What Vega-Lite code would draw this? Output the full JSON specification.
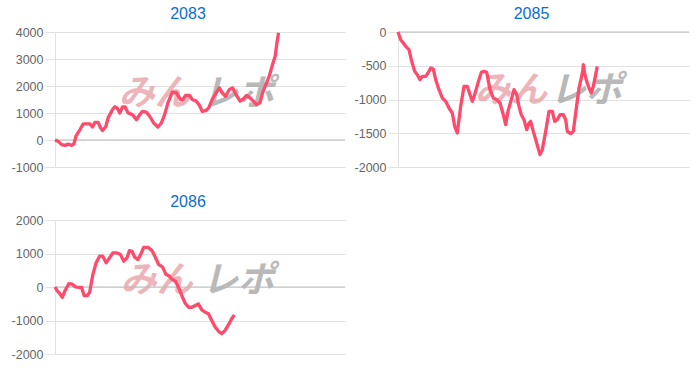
{
  "$schema": "https://vega.github.io/schema/vega-lite/v6.json",
  "padding": {"left": 11, "top": 6, "right": 2, "bottom": 5},
  "background": "white",
  "columns": 2,
  "spacing": {"column": 8, "row": 20},
  "config": {
    "view": {"stroke": null},
    "axis": {
      "labelFont": "Liberation Sans",
      "labelFontSize": 12.5,
      "labelColor": "#666666",
      "labelOverlap": false,
      "grid": true,
      "gridColor": "#e2e2e2",
      "gridOpacity": 1,
      "domainColor": "#e2e2e2",
      "tickColor": "#e2e2e2",
      "tickSize": 10,
      "labelPadding": 2,
      "title": null
    },
    "title": {
      "font": "Liberation Sans",
      "fontSize": 16,
      "fontWeight": "normal",
      "color": "#0a6ed1",
      "anchor": "middle",
      "offset": 4
    }
  },
  "datasets": {
    "pts": [
      {"id": 2083, "x": 0, "y": 0}, {"id": 2083, "x": 3.3, "y": -50}, {"id": 2083, "x": 6.7, "y": -170}, {"id": 2083, "x": 10, "y": -200}, {"id": 2083, "x": 13.3, "y": -150}, {"id": 2083, "x": 16.7, "y": -200}, {"id": 2083, "x": 19, "y": -140}, {"id": 2083, "x": 21, "y": 140}, {"id": 2083, "x": 25, "y": 380}, {"id": 2083, "x": 28.3, "y": 600}, {"id": 2083, "x": 31.7, "y": 600}, {"id": 2083, "x": 35, "y": 600}, {"id": 2083, "x": 37.7, "y": 480}, {"id": 2083, "x": 40, "y": 650}, {"id": 2083, "x": 43.3, "y": 650}, {"id": 2083, "x": 45.7, "y": 450}, {"id": 2083, "x": 47.7, "y": 350}, {"id": 2083, "x": 51, "y": 500}, {"id": 2083, "x": 53.3, "y": 820}, {"id": 2083, "x": 57.7, "y": 1130}, {"id": 2083, "x": 60, "y": 1230}, {"id": 2083, "x": 62.3, "y": 1190}, {"id": 2083, "x": 65, "y": 1000}, {"id": 2083, "x": 67.7, "y": 1230}, {"id": 2083, "x": 70.3, "y": 1230}, {"id": 2083, "x": 73.3, "y": 1000}, {"id": 2083, "x": 77.7, "y": 940}, {"id": 2083, "x": 81.7, "y": 750}, {"id": 2083, "x": 84.3, "y": 900}, {"id": 2083, "x": 87.7, "y": 1060}, {"id": 2083, "x": 91.7, "y": 1030}, {"id": 2083, "x": 95, "y": 880}, {"id": 2083, "x": 99, "y": 630}, {"id": 2083, "x": 103.3, "y": 480}, {"id": 2083, "x": 106.7, "y": 630}, {"id": 2083, "x": 110, "y": 940}, {"id": 2083, "x": 113.3, "y": 1375}, {"id": 2083, "x": 117.7, "y": 1770}, {"id": 2083, "x": 121.7, "y": 1750}, {"id": 2083, "x": 126, "y": 1500}, {"id": 2083, "x": 128.3, "y": 1500}, {"id": 2083, "x": 131, "y": 1650}, {"id": 2083, "x": 135, "y": 1650}, {"id": 2083, "x": 137.7, "y": 1500}, {"id": 2083, "x": 141.7, "y": 1440}, {"id": 2083, "x": 145, "y": 1280}, {"id": 2083, "x": 147.7, "y": 1060}, {"id": 2083, "x": 151.7, "y": 1100}, {"id": 2083, "x": 154.3, "y": 1190}, {"id": 2083, "x": 157.7, "y": 1500}, {"id": 2083, "x": 161.7, "y": 1750}, {"id": 2083, "x": 165, "y": 1930}, {"id": 2083, "x": 167.7, "y": 1750}, {"id": 2083, "x": 171, "y": 1620}, {"id": 2083, "x": 175, "y": 1870}, {"id": 2083, "x": 178.3, "y": 1930}, {"id": 2083, "x": 181.7, "y": 1680}, {"id": 2083, "x": 185.7, "y": 1440}, {"id": 2083, "x": 188.3, "y": 1500}, {"id": 2083, "x": 192.3, "y": 1650}, {"id": 2083, "x": 195.7, "y": 1560}, {"id": 2083, "x": 199, "y": 1440}, {"id": 2083, "x": 202.3, "y": 1310}, {"id": 2083, "x": 205.7, "y": 1375}, {"id": 2083, "x": 208.3, "y": 1750}, {"id": 2083, "x": 211.7, "y": 2060}, {"id": 2083, "x": 215, "y": 2370}, {"id": 2083, "x": 218.3, "y": 2800}, {"id": 2083, "x": 221, "y": 3110}, {"id": 2083, "x": 222.7, "y": 3600}, {"id": 2083, "x": 224.3, "y": 3975},
      {"id": 2085, "x": 0, "y": 0}, {"id": 2085, "x": 2.7, "y": -114}, {"id": 2085, "x": 5.3, "y": -163}, {"id": 2085, "x": 7.7, "y": -212}, {"id": 2085, "x": 11, "y": -262}, {"id": 2085, "x": 13.3, "y": -410}, {"id": 2085, "x": 16.7, "y": -583}, {"id": 2085, "x": 19.3, "y": -632}, {"id": 2085, "x": 22, "y": -706}, {"id": 2085, "x": 24.3, "y": -657}, {"id": 2085, "x": 27.7, "y": -657}, {"id": 2085, "x": 30, "y": -607}, {"id": 2085, "x": 32.7, "y": -533}, {"id": 2085, "x": 35.3, "y": -548}, {"id": 2085, "x": 37.7, "y": -706}, {"id": 2085, "x": 41, "y": -854}, {"id": 2085, "x": 44.3, "y": -978}, {"id": 2085, "x": 47.7, "y": -1027}, {"id": 2085, "x": 51, "y": -1126}, {"id": 2085, "x": 54.3, "y": -1200}, {"id": 2085, "x": 56.7, "y": -1398}, {"id": 2085, "x": 59.3, "y": -1496}, {"id": 2085, "x": 62.7, "y": -1101}, {"id": 2085, "x": 66, "y": -805}, {"id": 2085, "x": 69.3, "y": -805}, {"id": 2085, "x": 72, "y": -928}, {"id": 2085, "x": 74.3, "y": -1027}, {"id": 2085, "x": 76.7, "y": -928}, {"id": 2085, "x": 80, "y": -756}, {"id": 2085, "x": 83.3, "y": -598}, {"id": 2085, "x": 86, "y": -583}, {"id": 2085, "x": 88.7, "y": -598}, {"id": 2085, "x": 92, "y": -854}, {"id": 2085, "x": 95.3, "y": -978}, {"id": 2085, "x": 98.7, "y": -1002}, {"id": 2085, "x": 102, "y": -1052}, {"id": 2085, "x": 105.3, "y": -1225}, {"id": 2085, "x": 107.7, "y": -1373}, {"id": 2085, "x": 110, "y": -1175}, {"id": 2085, "x": 113.3, "y": -1002}, {"id": 2085, "x": 116, "y": -854}, {"id": 2085, "x": 118.7, "y": -928}, {"id": 2085, "x": 121, "y": -1101}, {"id": 2085, "x": 123.3, "y": -1225}, {"id": 2085, "x": 126, "y": -1299}, {"id": 2085, "x": 128.7, "y": -1447}, {"id": 2085, "x": 131, "y": -1348}, {"id": 2085, "x": 132.7, "y": -1324}, {"id": 2085, "x": 135.3, "y": -1472}, {"id": 2085, "x": 138.7, "y": -1644}, {"id": 2085, "x": 142, "y": -1817}, {"id": 2085, "x": 144.3, "y": -1743}, {"id": 2085, "x": 147.7, "y": -1472}, {"id": 2085, "x": 151, "y": -1175}, {"id": 2085, "x": 154.3, "y": -1175}, {"id": 2085, "x": 156.7, "y": -1324}, {"id": 2085, "x": 159.3, "y": -1299}, {"id": 2085, "x": 162, "y": -1225}, {"id": 2085, "x": 165.3, "y": -1225}, {"id": 2085, "x": 167.7, "y": -1299}, {"id": 2085, "x": 169.3, "y": -1472}, {"id": 2085, "x": 172.7, "y": -1506}, {"id": 2085, "x": 175.3, "y": -1472}, {"id": 2085, "x": 177.7, "y": -1200}, {"id": 2085, "x": 181, "y": -830}, {"id": 2085, "x": 183.3, "y": -681}, {"id": 2085, "x": 184.7, "y": -583}, {"id": 2085, "x": 185.3, "y": -484}, {"id": 2085, "x": 186.7, "y": -617}, {"id": 2085, "x": 188.7, "y": -731}, {"id": 2085, "x": 191, "y": -830}, {"id": 2085, "x": 193.3, "y": -904}, {"id": 2085, "x": 195.3, "y": -805}, {"id": 2085, "x": 197.7, "y": -632}, {"id": 2085, "x": 199.3, "y": -509},
      {"id": 2086, "x": 0, "y": 0}, {"id": 2086, "x": 2.3, "y": -113}, {"id": 2086, "x": 4.7, "y": -192}, {"id": 2086, "x": 7.3, "y": -310}, {"id": 2086, "x": 10, "y": -113}, {"id": 2086, "x": 14, "y": 103}, {"id": 2086, "x": 17.3, "y": 84}, {"id": 2086, "x": 20.7, "y": 5}, {"id": 2086, "x": 24, "y": -15}, {"id": 2086, "x": 26.7, "y": -15}, {"id": 2086, "x": 29.3, "y": -260}, {"id": 2086, "x": 32.3, "y": -260}, {"id": 2086, "x": 34.7, "y": -162}, {"id": 2086, "x": 38, "y": 378}, {"id": 2086, "x": 41.3, "y": 722}, {"id": 2086, "x": 44.7, "y": 919}, {"id": 2086, "x": 48, "y": 919}, {"id": 2086, "x": 51.3, "y": 722}, {"id": 2086, "x": 54.7, "y": 870}, {"id": 2086, "x": 58, "y": 1017}, {"id": 2086, "x": 62.3, "y": 1017}, {"id": 2086, "x": 65.7, "y": 968}, {"id": 2086, "x": 69, "y": 771}, {"id": 2086, "x": 72.3, "y": 870}, {"id": 2086, "x": 74.7, "y": 1086}, {"id": 2086, "x": 77.3, "y": 1066}, {"id": 2086, "x": 80, "y": 889}, {"id": 2086, "x": 83.3, "y": 820}, {"id": 2086, "x": 86.7, "y": 1017}, {"id": 2086, "x": 89, "y": 1184}, {"id": 2086, "x": 93.3, "y": 1184}, {"id": 2086, "x": 97.3, "y": 1086}, {"id": 2086, "x": 100.7, "y": 889}, {"id": 2086, "x": 104, "y": 673}, {"id": 2086, "x": 108, "y": 595}, {"id": 2086, "x": 111.3, "y": 378}, {"id": 2086, "x": 114.7, "y": 329}, {"id": 2086, "x": 117.3, "y": 231}, {"id": 2086, "x": 120.7, "y": 182}, {"id": 2086, "x": 124, "y": -15}, {"id": 2086, "x": 127.3, "y": -260}, {"id": 2086, "x": 130.7, "y": -486}, {"id": 2086, "x": 134, "y": -604}, {"id": 2086, "x": 137.3, "y": -604}, {"id": 2086, "x": 140.7, "y": -555}, {"id": 2086, "x": 144, "y": -506}, {"id": 2086, "x": 147.3, "y": -683}, {"id": 2086, "x": 150.7, "y": -752}, {"id": 2086, "x": 154, "y": -801}, {"id": 2086, "x": 157.3, "y": -998}, {"id": 2086, "x": 160.7, "y": -1194}, {"id": 2086, "x": 164.7, "y": -1342}, {"id": 2086, "x": 167.3, "y": -1391}, {"id": 2086, "x": 170.7, "y": -1293}, {"id": 2086, "x": 174.7, "y": -1096}, {"id": 2086, "x": 177.3, "y": -948}, {"id": 2086, "x": 180, "y": -830}
    ]
  },
  "concat": [
    {
      "title": {"text": "2083", "dx": -12},
      "width": 290,
      "height": 135,
      "encoding": {
        "x": {"type": "quantitative", "scale": {"domain": [0, 291]}, "axis": null},
        "y": {"type": "quantitative", "scale": {"domain": [-1000, 4000], "nice": false}, "axis": {"values": [-1000, 0, 1000, 2000, 3000, 4000], "labelExpr": "'' + datum.value", "labelOverlap": false, "grid": true}}
      },
      "layer": [
        {"data": {"values": [{"t": "みん"}]}, "mark": {"type": "text", "font": "Noto Sans CJK JP", "fontSize": 36, "fontWeight": "bold", "fontStyle": "italic", "color": "#e9a3a8", "opacity": 0.8}, "encoding": {"x": {"datum": 100}, "y": {"datum": 1700}, "text": {"field": "t"}}},
        {"data": {"values": [{"t": "レポ"}]}, "mark": {"type": "text", "font": "Noto Sans CJK JP", "fontSize": 36, "fontWeight": "bold", "fontStyle": "italic", "color": "#a8a8a8", "opacity": 0.8}, "encoding": {"x": {"datum": 184}, "y": {"datum": 1700}, "text": {"field": "t"}}},
        {"data": {"values": [{}]}, "mark": {"type": "rule", "color": "#bdbdbd"}, "encoding": {"y": {"datum": 0}}},
        {"data": {"name": "pts"}, "transform": [{"filter": "datum.id == 2083"}], "mark": {"type": "line", "color": "#ff4a6b", "strokeWidth": 3.3, "strokeJoin": "round"},
          "encoding": {"x": {"field": "x"}, "y": {"field": "y"}}}
      ]
    },
    {
      "title": {"text": "2085", "dx": -12},
      "width": 291,
      "height": 135,
      "encoding": {
        "x": {"type": "quantitative", "scale": {"domain": [0, 291]}, "axis": null},
        "y": {"type": "quantitative", "scale": {"domain": [-2000, 0], "nice": false}, "axis": {"values": [-2000, -1500, -1000, -500, 0], "labelExpr": "'' + datum.value", "labelOverlap": false, "grid": true}}
      },
      "layer": [
        {"data": {"values": [{"t": "みん"}]}, "mark": {"type": "text", "font": "Noto Sans CJK JP", "fontSize": 36, "fontWeight": "bold", "fontStyle": "italic", "color": "#e9a3a8", "opacity": 0.8}, "encoding": {"x": {"datum": 113}, "y": {"datum": -880}, "text": {"field": "t"}}},
        {"data": {"values": [{"t": "レポ"}]}, "mark": {"type": "text", "font": "Noto Sans CJK JP", "fontSize": 36, "fontWeight": "bold", "fontStyle": "italic", "color": "#a8a8a8", "opacity": 0.8}, "encoding": {"x": {"datum": 188}, "y": {"datum": -880}, "text": {"field": "t"}}},
        {"data": {"values": [{}]}, "mark": {"type": "rule", "color": "#bdbdbd"}, "encoding": {"y": {"datum": 0}}},
        {"data": {"name": "pts"}, "transform": [{"filter": "datum.id == 2085"}], "mark": {"type": "line", "color": "#ff4a6b", "strokeWidth": 3.3, "strokeJoin": "round"},
          "encoding": {"x": {"field": "x"}, "y": {"field": "y"}}}
      ]
    },
    {
      "title": {"text": "2086", "dx": -12},
      "width": 290,
      "height": 134,
      "encoding": {
        "x": {"type": "quantitative", "scale": {"domain": [0, 291]}, "axis": null},
        "y": {"type": "quantitative", "scale": {"domain": [-2000, 2000], "nice": false}, "axis": {"values": [-2000, -1000, 0, 1000, 2000], "labelExpr": "'' + datum.value", "labelOverlap": false, "grid": true}}
      },
      "layer": [
        {"data": {"values": [{"t": "みん"}]}, "mark": {"type": "text", "font": "Noto Sans CJK JP", "fontSize": 36, "fontWeight": "bold", "fontStyle": "italic", "color": "#e9a3a8", "opacity": 0.8}, "encoding": {"x": {"datum": 102}, "y": {"datum": 170}, "text": {"field": "t"}}},
        {"data": {"values": [{"t": "レポ"}]}, "mark": {"type": "text", "font": "Noto Sans CJK JP", "fontSize": 36, "fontWeight": "bold", "fontStyle": "italic", "color": "#a8a8a8", "opacity": 0.8}, "encoding": {"x": {"datum": 184}, "y": {"datum": 170}, "text": {"field": "t"}}},
        {"data": {"values": [{}]}, "mark": {"type": "rule", "color": "#bdbdbd"}, "encoding": {"y": {"datum": 0}}},
        {"data": {"name": "pts"}, "transform": [{"filter": "datum.id == 2086"}], "mark": {"type": "line", "color": "#ff4a6b", "strokeWidth": 3.3, "strokeJoin": "round"},
          "encoding": {"x": {"field": "x"}, "y": {"field": "y"}}}
      ]
    }
  ]
}
